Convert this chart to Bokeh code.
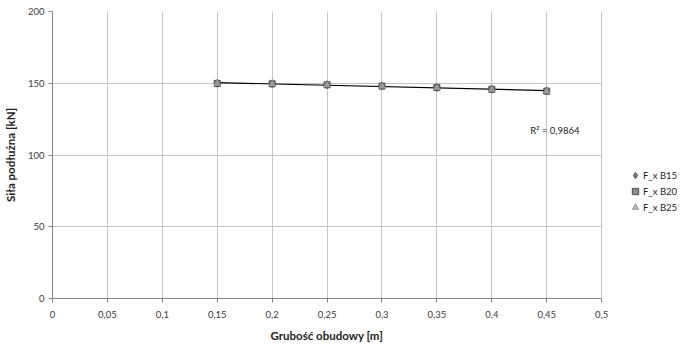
import numpy as np
from bokeh.plotting import figure
from bokeh.models import FixedTicker, Legend, LegendItem, Label, ColumnDataSource, Title
from bokeh.embed import file_html
from bokeh.resources import INLINE

# ---- data ----
grubosc = [0.15, 0.20, 0.25, 0.30, 0.35, 0.40, 0.45]
fx_b15 = [150.0, 149.7, 149.0, 148.1, 147.1, 145.9, 144.6]
fx_b20 = [149.9, 149.6, 148.9, 148.0, 147.0, 145.8, 144.5]
fx_b25 = [149.8, 149.5, 148.8, 147.9, 146.9, 145.7, 144.4]
series_names = ["F_x B15", "F_x B20", "F_x B25"]
x_ticks = [0, 0.05, 0.1, 0.15, 0.2, 0.25, 0.3, 0.35, 0.4, 0.45, 0.5]
x_tick_labels = ["0", "0,05", "0,1", "0,15", "0,2", "0,25", "0,3", "0,35", "0,4", "0,45", "0,5"]
y_ticks = [0, 50, 100, 150, 200]
x_title = "Grubość obudowy [m]"
y_title = "Siła podłużna [kN]"
r2_text = "R\u00b2 = 0,9864"

FONT = "Lato"
X_MAX = 0.5
# the frame extends to the right edge so the legend can sit there;
# axis and grid are bounded to the 0..0.5 data area
X_VIEW_END = X_MAX * 644 / 550

p = figure(width=695, height=347, x_range=(0, X_VIEW_END), y_range=(0, 200),
           output_backend="svg", toolbar_location=None,
           min_border_left=51, min_border_right=0, min_border_top=11, min_border_bottom=49)
p.outline_line_color = None
p.background_fill_color = "white"

# axes
p.xaxis.ticker = FixedTicker(ticks=x_ticks)
p.xaxis.bounds = (0, X_MAX)
p.xaxis.major_label_overrides = {t: l for t, l in zip(x_ticks, x_tick_labels)}
p.yaxis.ticker = FixedTicker(ticks=y_ticks)
for ax in (p.xaxis, p.yaxis):
    ax.axis_line_color = "#868686"
    ax.major_tick_line_color = "#868686"
    ax.major_tick_out = 4
    ax.major_tick_in = 0
    ax.minor_tick_line_color = None
    ax.major_label_text_font = FONT
    ax.major_label_text_font_size = "9.5px"
    ax.major_label_text_color = "#3a3a3a"
p.yaxis.axis_label = y_title
p.yaxis.axis_label_text_font = FONT
p.yaxis.axis_label_text_font_size = "11.5px"
p.yaxis.axis_label_text_font_style = "bold"
p.yaxis.axis_label_text_color = "#222222"
p.xaxis.major_label_standoff = 8
p.yaxis.major_label_standoff = 4
p.yaxis.axis_label_standoff = 8

# x title centred under the 0..0.5 data area
p.add_layout(Title(text=x_title, align="left", offset=218, standoff=12,
                   vertical_align="bottom",
                   text_font=FONT, text_font_size="11.5px", text_font_style="bold",
                   text_color="#222222"), "below")

# grid
p.xgrid.ticker = FixedTicker(ticks=x_ticks)
p.xgrid.bounds = (0, X_MAX)
p.ygrid.ticker = FixedTicker(ticks=y_ticks)
p.grid.grid_line_color = "#c4c4c4"
p.grid.grid_line_width = 1
if "cross_bounds" in p.ygrid[0].properties():
    p.ygrid.cross_bounds = (0, X_MAX)
else:
    p.ygrid.visible = False
    p.segment(x0=[0] * len(y_ticks), x1=[X_MAX] * len(y_ticks), y0=y_ticks, y1=y_ticks,
              line_color="#c4c4c4", line_width=1, level="underlay")

# trendline (linear fit)
coef = np.polyfit(grubosc, fx_b20, 1)
tx = [grubosc[0], grubosc[-1]]
ty = list(np.polyval(coef, tx))
p.line(tx, ty, line_color="black", line_width=1.2)

src = ColumnDataSource(dict(x=grubosc, b15=fx_b15, b20=fx_b20, b25=fx_b25))
r1 = p.scatter("x", "b15", source=src, marker="diamond", size=8,
               fill_color="#7a7a7a", line_color="#5a5a5a")
r2 = p.scatter("x", "b20", source=src, marker="square", size=6,
               fill_color="#6a6a6a", line_color="#505050", fill_alpha=0.8)
r3 = p.scatter("x", "b25", source=src, marker="triangle", size=6,
               fill_color="#a6a6a6", line_color="#999999", fill_alpha=0.8)

p.add_layout(Label(x=0.435, y=117, text=r2_text, text_font=FONT,
                   text_font_size="9.5px", text_color="#222222",
                   text_baseline="middle"))

legend = Legend(items=[LegendItem(label=series_names[0], renderers=[r1]),
                       LegendItem(label=series_names[1], renderers=[r2]),
                       LegendItem(label=series_names[2], renderers=[r3])],
                location=(575, 83), orientation="vertical",
                padding=0, margin=0, spacing=0,
                glyph_width=16, glyph_height=16, label_height=16,
                label_standoff=0, label_text_font=FONT,
                label_text_font_size="9.5px", label_text_color="#222222",
                border_line_color=None, background_fill_alpha=0)
p.add_layout(legend, "center")

open("out.html", "w").write(file_html(p, INLINE))
